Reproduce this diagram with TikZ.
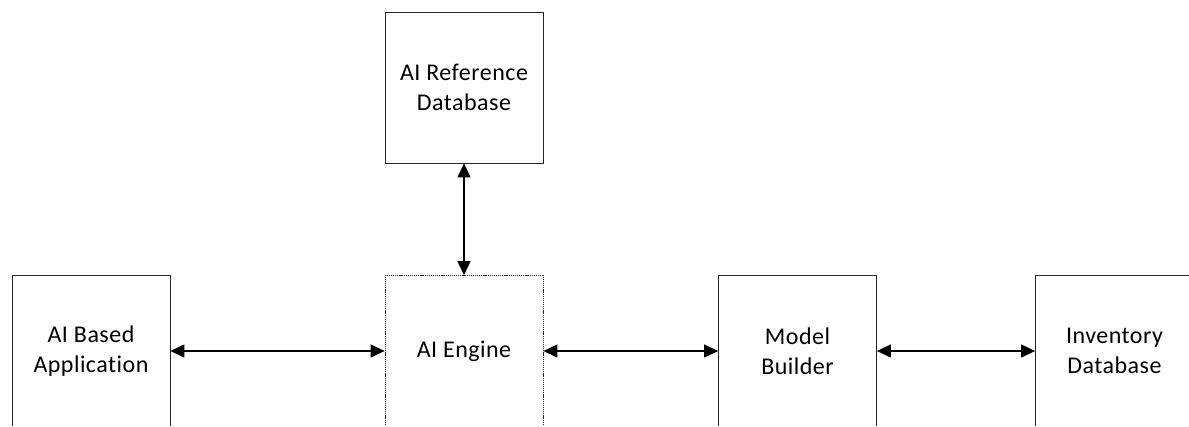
\documentclass[tikz,border=0pt]{standalone}
\usepackage{fontspec}
\setmainfont{Carlito}[RawFeature={-liga;-clig;-dlig},LetterSpace=2]
\usetikzlibrary{arrows.meta}
\begin{document}
\begin{tikzpicture}[x=1pt,y=1pt,
  blk/.style={draw=black!85,line width=0.8pt,minimum width=158pt,minimum height=151pt,
    inner sep=0pt,align=center,font=\fontsize{24}{30}\selectfont},
  dotblk/.style={blk,dash pattern=on 1.2pt off 0.9pt},
  link/.style={line width=1.2pt,{Triangle[length=14pt,width=13pt]}-{Triangle[length=14pt,width=13pt]}}]
\useasboundingbox (0,0) rectangle (1189,426);
\clip (0,0.9) rectangle (1189,426);
\node[blk] (ref) at (464,338.5) {AI Reference\\Database};
\node[blk] (app) at (91,75) {AI Based\\Application};
\node[dotblk] (eng) at (464,75) {AI Engine};
\node[blk] (mod) at (797.5,75) {Model\\Builder};
\node[blk] (inv) at (1114.5,75) {Inventory\\Database};
\draw[link] (ref) -- (eng);
\draw[link] (app) -- (eng);
\draw[link] (eng) -- (mod);
\draw[link] (mod) -- (inv);
\end{tikzpicture}
\end{document}
